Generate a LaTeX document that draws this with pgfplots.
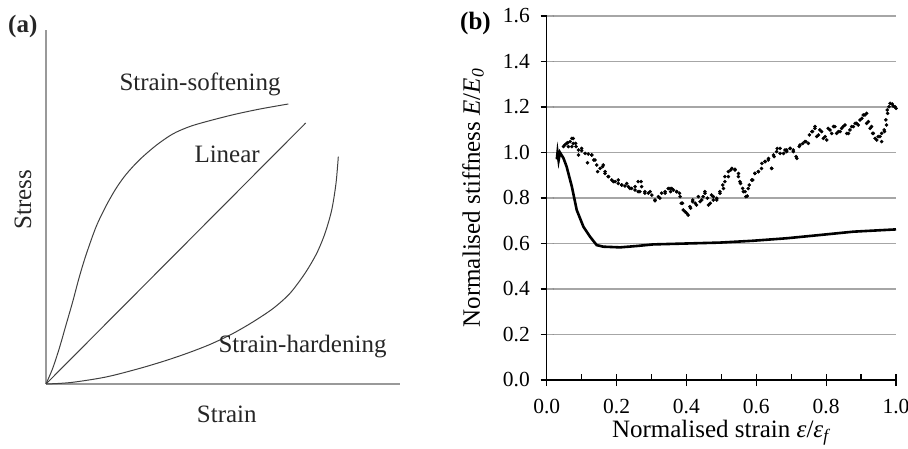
\documentclass[border=0pt]{standalone}
\usepackage{fontspec}
\setmainfont{Liberation Serif}
\usepackage{pgfplots}
\pgfplotsset{compat=1.18}
\newcommand\lbl{\fontsize{25bp}{29bp}\selectfont}
\newcommand\tck{\fontsize{21.5bp}{25bp}\selectfont}

\begin{document}
\begin{tikzpicture}
\useasboundingbox (0bp,0bp) rectangle (908bp,449bp);

% (a) sketch of stress-strain shapes, axis units are pixels
\begin{axis}[
  at={(46bp,65bp)}, anchor=south west,
  scale only axis, width=354bp, height=354bp,
  xmin=0, xmax=354, ymin=0, ymax=354,
  axis lines=left,
  axis line style={-, black!40, line width=1.6bp},
  xtick=\empty, ytick=\empty,
  clip=false,
]
\addplot[black!75, line width=1bp, smooth] coordinates {
  (0,0) (6.7,15.7) (13.3,35.7) (20,59) (26.7,82.3) (33.3,107) (40,129)
  (50,157) (60,178) (70,195.5) (80,209.5) (93.3,224) (110,238.5)
  (126.7,250) (143.3,257.3) (160,262.3) (187.3,269.3) (214,275) (242.3,280)};
\addplot[black!75, line width=1bp] coordinates {(0,0) (259.7,261)};
\addplot[black!75, line width=1bp, smooth] coordinates {
  (0,0) (25,1.5) (60,7) (93.3,15.5) (120,23.5) (143.3,31.5) (165,40)
  (187.3,50.7) (207.3,62.3) (227.3,75.7) (244,90.7) (259,110.7)
  (270.7,130.7) (279,150.7) (285.7,174) (290,200.7) (292.3,227.3)};
\end{axis}

% (b) normalised stiffness
\begin{axis}[
  at={(546.7bp,69bp)}, anchor=south west,
  scale only axis, width=349.3bp, height=364bp,
  xmin=0, xmax=1, ymin=0, ymax=1.6,
  axis x line=bottom, axis y line=left,
  axis line style={-, line width=1.3bp, black},
  xtick={0,0.2,0.4,0.6,0.8,1.0},
  ytick={0,0.2,0.4,0.6,0.8,1.0,1.2,1.4,1.6},
  minor x tick num=1,
  ymajorgrids,
  major grid style={black!35, line width=1.3bp},
  tick align=outside, major tick length=12bp, minor tick length=6bp,
  tick style={black, line width=1.2bp},
  every major x tick/.append style={yshift=6bp},
  every minor x tick/.append style={yshift=6bp},
  every major y tick/.append style={xshift=6bp, dash pattern=on 6bp off 6bp},
  /pgf/number format/fixed, /pgf/number format/fixed zerofill,
  /pgf/number format/precision=1, /pgf/number format/assume math mode=true,
  xticklabel style={font=\tck, anchor=base, inner sep=0pt, yshift=-21bp},
  yticklabel style={font=\tck, anchor=east, inner sep=0pt, xshift=-4.7bp},
  xlabel={Normalised strain \textit{ε}/\textit{ε}\textsubscript{\textit{f}}},
  ylabel={Normalised stiffness \textit{E}/\textit{E}\textsubscript{\textit{0}}},
  every axis x label/.style={at={(axis description cs:0.5,-0.158)}, anchor=base, font=\lbl, inner sep=0pt},
  every axis y label/.style={at={(axis description cs:-0.191,0.5)}, rotate=90, anchor=base, font=\lbl, inner sep=0pt},
  clip=false,
]
\addplot[black, line width=2.6bp] coordinates {
  (0.029,0.97) (0.031,1.0) (0.034,0.965) (0.038,1.0) (0.042,0.99) (0.048,0.975)
  (0.057,0.938) (0.072,0.85) (0.086,0.747) (0.105,0.674) (0.124,0.63)
  (0.143,0.593) (0.162,0.586) (0.21,0.583) (0.258,0.589) (0.305,0.596)
  (0.40,0.60) (0.496,0.604) (0.59,0.612) (0.687,0.623) (0.78,0.637)
  (0.878,0.652) (1.0,0.662)};
\addplot[only marks, mark=*, mark size=1.6bp, black] coordinates {
  (0.033,0.996) (0.048,1.026) (0.057,1.040) (0.062,1.026) (0.067,1.048)
  (0.072,1.062) (0.076,1.040) (0.084,1.026) (0.091,1.011) (0.100,1.018)
  (0.110,0.996) (0.119,0.993) (0.129,0.989) (0.135,0.967) (0.143,0.945)
  (0.153,0.930) (0.160,0.938) (0.167,0.908) (0.177,0.894) (0.186,0.879)
  (0.196,0.872) (0.205,0.864) (0.215,0.857) (0.224,0.853) (0.234,0.850)
  (0.243,0.842) (0.253,0.835) (0.262,0.872) (0.267,0.828) (0.272,0.850)
  (0.281,0.828) (0.291,0.821) (0.301,0.813) (0.310,0.791) (0.320,0.806)
  (0.329,0.821) (0.339,0.828) (0.348,0.842) (0.355,0.828) (0.363,0.835)
  (0.372,0.828) (0.380,0.821) (0.385,0.777) (0.391,0.747) (0.401,0.733)
  (0.410,0.762) (0.418,0.784) (0.425,0.777) (0.434,0.806) (0.444,0.791)
  (0.453,0.821) (0.460,0.799) (0.468,0.777) (0.477,0.806) (0.487,0.791)
  (0.496,0.828) (0.504,0.857) (0.510,0.894) (0.520,0.916) (0.530,0.930)
  (0.539,0.923) (0.549,0.894) (0.555,0.864) (0.563,0.828) (0.570,0.806)
  (0.577,0.842) (0.587,0.879) (0.596,0.908) (0.606,0.916) (0.615,0.930)
  (0.625,0.960) (0.635,0.974) (0.644,0.930) (0.651,0.982) (0.658,1.004)
  (0.668,1.018) (0.678,0.996) (0.687,1.011) (0.697,1.018) (0.706,1.004)
  (0.714,0.982) (0.723,1.026) (0.733,1.040) (0.742,1.048) (0.752,1.077)
  (0.761,1.092) (0.768,1.106) (0.778,1.077) (0.787,1.092) (0.797,1.070)
  (0.806,1.106) (0.816,1.084) (0.825,1.114) (0.835,1.092) (0.844,1.106)
  (0.854,1.121) (0.864,1.084) (0.873,1.114) (0.883,1.128) (0.892,1.121)
  (0.902,1.150) (0.911,1.165) (0.916,1.128) (0.926,1.106) (0.933,1.084)
  (0.940,1.062) (0.949,1.070) (0.959,1.084) (0.966,1.099) (0.971,1.143)
  (0.975,1.187) (0.983,1.216) (0.992,1.204) (1.0,1.194)
  (0.052,1.033) (0.060,1.043) (0.076,1.062) (0.083,1.040) (0.072,1.026)
  (0.091,0.989) (0.100,1.008) (0.117,0.955) (0.129,0.989) (0.138,0.967)
  (0.146,0.916) (0.162,0.945) (0.167,0.916) (0.176,0.894) (0.191,0.872)
  (0.205,0.879) (0.215,0.857) (0.229,0.864) (0.238,0.842) (0.253,0.850)
  (0.262,0.828) (0.270,0.872) (0.281,0.821) (0.296,0.828) (0.310,0.788)
  (0.324,0.799) (0.339,0.821) (0.353,0.842) (0.358,0.842) (0.372,0.828)
  (0.382,0.806) (0.389,0.777) (0.396,0.740) (0.405,0.725) (0.412,0.755)
  (0.418,0.791) (0.429,0.769) (0.439,0.784) (0.448,0.806) (0.453,0.828)
  (0.463,0.769) (0.472,0.813) (0.477,0.791) (0.487,0.799) (0.496,0.821)
  (0.506,0.842) (0.510,0.872) (0.520,0.894) (0.527,0.923) (0.539,0.926)
  (0.549,0.908) (0.553,0.872) (0.561,0.842) (0.568,0.828) (0.574,0.809)
  (0.580,0.857) (0.590,0.879) (0.596,0.908) (0.606,0.916) (0.616,0.952)
  (0.625,0.960) (0.634,0.967) (0.644,0.930) (0.649,0.989) (0.660,1.018)
  (0.668,0.996) (0.682,1.011) (0.687,1.004) (0.697,1.018) (0.706,1.011)
  (0.716,0.974) (0.725,1.033) (0.739,1.048) (0.749,1.040) (0.759,1.092)
  (0.768,1.114) (0.773,1.070) (0.782,1.099) (0.792,1.062) (0.802,1.055)
  (0.811,1.099) (0.821,1.114) (0.830,1.084) (0.840,1.092) (0.849,1.114)
  (0.859,1.084) (0.868,1.099) (0.878,1.114) (0.887,1.128) (0.897,1.143)
  (0.906,1.165) (0.916,1.172) (0.921,1.136) (0.930,1.114) (0.935,1.084)
  (0.945,1.055) (0.954,1.070) (0.959,1.048) (0.967,1.092) (0.973,1.121)
  (0.976,1.172) (0.980,1.201) (0.989,1.213) (0.997,1.201)};
\end{axis}

\begin{scope}[every node/.style={inner sep=0pt, font=\lbl, text=black!85}]
\node[anchor=base west, font=\lbl\bfseries] at (8bp,416bp) {(a)};
\node[anchor=base west] at (119.3bp,358bp) {Strain-softening};
\node[anchor=base west] at (194.3bp,286.3bp) {Linear};
\node[anchor=base west] at (218.3bp,96.7bp) {Strain-hardening};
\node[anchor=base west, rotate=90] at (31bp,219bp) {Stress};
\node[anchor=base west] at (196.7bp,26.3bp) {Strain};
\node[anchor=base west, font=\lbl\bfseries, text=black] at (460bp,419bp) {(b)};
\end{scope}
\end{tikzpicture}
\end{document}
